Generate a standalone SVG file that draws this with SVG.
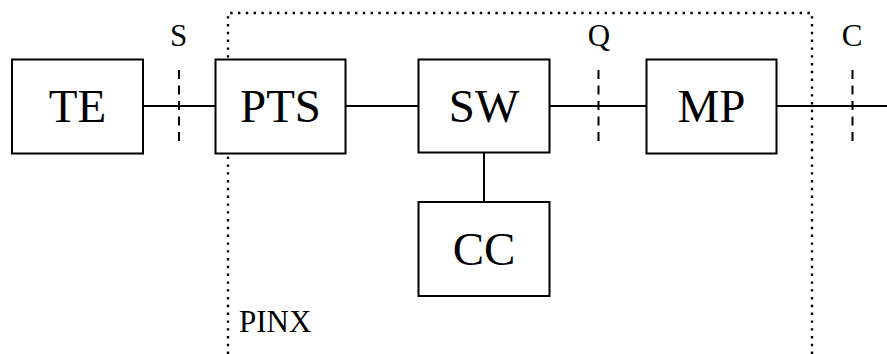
<svg xmlns="http://www.w3.org/2000/svg" width="887" height="354" viewBox="0 0 887 354">
<style>
.box{fill:#fff;stroke:#000;stroke-width:2}
.big{font-family:"Liberation Serif","Times New Roman",serif;font-size:47px;text-anchor:middle;fill:#000}
.lbl{font-family:"Liberation Serif","Times New Roman",serif;font-size:31px;fill:#000}
.ln{stroke:#000;stroke-width:2;fill:none}
.dash{stroke:#000;stroke-width:2;stroke-dasharray:9 6.5;fill:none}
.dot{stroke:#000;stroke-width:2.4;stroke-dasharray:2.4 5.4;fill:none}
</style>
<rect width="887" height="354" fill="#fff"/>
<g id="pinx">
<path class="dot" d="M228,354 V13 H812 V354"/>
<text class="lbl" x="239" y="331.5">PINX</text>
</g>
<g id="connectors">
<line class="ln" x1="143" y1="106" x2="216" y2="106"/>
<line class="ln" x1="346" y1="106" x2="419" y2="106"/>
<line class="ln" x1="549" y1="106" x2="647" y2="106"/>
<line class="ln" x1="777" y1="106" x2="887" y2="106"/>
<line class="ln" x1="484" y1="153" x2="484" y2="202"/>
</g>
<g id="refpoints">
<line class="dash" x1="179" y1="70" x2="179" y2="141"/>
<text class="lbl" x="178.5" y="46" text-anchor="middle">S</text>
<line class="dash" x1="598.5" y1="70" x2="598.5" y2="141"/>
<text class="lbl" x="599" y="46" text-anchor="middle">Q</text>
<line class="dash" x1="852.5" y1="70" x2="852.5" y2="141"/>
<text class="lbl" x="852" y="46" text-anchor="middle">C</text>
</g>
<g id="TE"><rect class="box" x="12" y="59.5" width="131" height="94"/><text class="big" x="77.5" y="122">TE</text></g>
<g id="PTS"><rect class="box" x="215.5" y="59.5" width="130" height="94"/><text class="big" x="280.5" y="122">PTS</text></g>
<g id="SW"><rect class="box" x="418.5" y="59.5" width="131" height="93"/><text class="big" x="484" y="122">SW</text></g>
<g id="MP"><rect class="box" x="646.5" y="59.5" width="130" height="94"/><text class="big" x="711.5" y="122">MP</text></g>
<g id="CC"><rect class="box" x="418.5" y="202" width="131" height="94"/><text class="big" x="484" y="265">CC</text></g>
</svg>
